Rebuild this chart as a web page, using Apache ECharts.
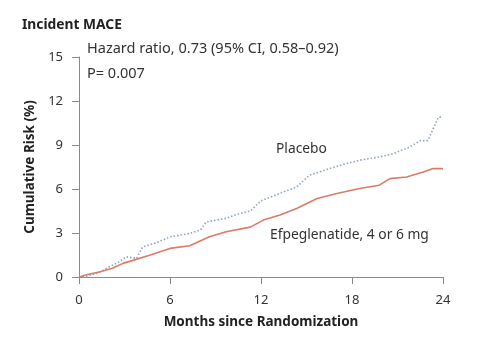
<!DOCTYPE html>
<html><head><meta charset="utf-8">
<script src="https://cdn.jsdelivr.net/npm/echarts@6/dist/echarts.min.js"></script>
<style>html,body{margin:0;padding:0;background:#fff}#c{width:481px;height:343px}</style>
</head><body><div id="c"></div>
<script>
const xTicks = [0, 6, 12, 18, 24];
const yTicks = [0, 3, 6, 9, 12, 15];
const placeboMonths = [0,0.5,1,1.4,2,2.6,3.1,3.8,4.2,5,6,7.3,8,8.4,9.7,10.5,11.3,12,13.25,14.35,15.2,16.55,17.5,18.5,19.8,20.7,21.8,22.5,23.0,23.35,23.7,24];
const placeboRisk = [0,0.05,0.2,0.35,0.7,1.0,1.38,1.27,2.06,2.3,2.74,2.97,3.2,3.76,4.0,4.3,4.5,5.2,5.7,6.14,6.94,7.4,7.7,7.96,8.18,8.4,8.86,9.3,9.3,10.1,10.9,10.9];
const efpegMonths = [0,0.5,1.4,2.2,2.9,3.6,4.7,6,7.3,8.6,9.7,11.3,12.15,13.25,14.35,15.7,17,18.5,19.8,20.5,21.6,22.7,23.35,24];
const efpegRisk = [0,0.15,0.36,0.6,0.93,1.15,1.5,1.95,2.13,2.74,3.08,3.4,3.88,4.22,4.67,5.35,5.69,6.03,6.26,6.71,6.82,7.16,7.39,7.39];
const seriesNames = ['Placebo', 'Efpeglenatide, 4 or 6 mg'];
const titleText = 'Incident MACE';
const hrText = 'Hazard ratio, 0.73 (95% CI, 0.58\u20130.92)';
const pText = 'P= 0.007';

const font = 'Noto Sans';
const chart = echarts.init(document.getElementById('c'), null, {renderer:'canvas'});
const axisCol = '#8a8a8a';
chart.setOption({
  animation: false,
  textStyle: {fontFamily: font},
  grid: {left: 79, right: 38, top: 57, bottom: 66},
  xAxis: {
    type: 'value', min: 0, max: 24, interval: 6,
    name: 'Months since Randomization', nameLocation: 'middle', nameGap: 38,
    nameTextStyle: {fontWeight: 'bold', fontSize: 13.5, color: '#222', fontFamily: font},
    axisLine: {show: true, lineStyle: {color: axisCol, width: 1}},
    axisTick: {show: true, length: 7, lineStyle: {color: axisCol}},
    axisLabel: {fontSize: 13, color: '#333', margin: 17, fontFamily: font},
    splitLine: {show: false}
  },
  yAxis: {
    type: 'value', min: 0, max: 15, interval: 3,
    name: 'Cumulative Risk (%)', nameLocation: 'middle', nameGap: 40, nameRotate: 90,
    nameTextStyle: {fontWeight: 'bold', fontSize: 13.5, color: '#222', fontFamily: font},
    axisLine: {show: true, lineStyle: {color: axisCol, width: 1}},
    axisTick: {show: true, length: 7, lineStyle: {color: axisCol}},
    axisLabel: {fontSize: 13, color: '#333', margin: 16, fontFamily: font},
    splitLine: {show: false}
  },
  series: [
    {name: seriesNames[0], type: 'line', symbol: 'none',
     data: placeboMonths.map((m,i)=>[m, placeboRisk[i]]),
     lineStyle: {color: '#8ea3c6', width: 1.6, type: [1.5, 2]}},
    {name: seriesNames[1], type: 'line', symbol: 'none',
     data: efpegMonths.map((m,i)=>[m, efpegRisk[i]]),
     lineStyle: {color: '#d97c66', width: 1.6}}
  ],
  graphic: [
    {type:'text', left: 22, top: 18, style:{text: titleText, font: 'bold 13.8px "Noto Sans"', fill:'#222'}},
    {type:'text', left: 87, top: 41, style:{text: hrText, font: '14.5px "Noto Sans"', fill:'#333'}},
    {type:'text', left: 87, top: 66, style:{text: pText, font: '14.5px "Noto Sans"', fill:'#333'}},
    {type:'text', left: 276, top: 142, style:{text: seriesNames[0], font: '13.8px "Noto Sans"', fill:'#333'}},
    {type:'text', left: 270, top: 228, style:{text: seriesNames[1], font: '13.8px "Noto Sans"', fill:'#333'}}
  ]
});
</script></body></html>
